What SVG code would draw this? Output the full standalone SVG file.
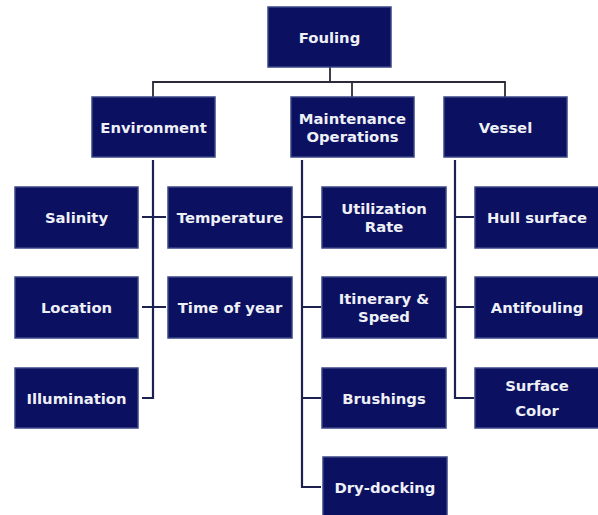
<svg xmlns="http://www.w3.org/2000/svg" width="598" height="515" viewBox="0 0 598 515">
<style>
.box{fill:#0b1061;stroke:#3a4585;stroke-width:1.5}
.t{fill:#eef0f6;font-family:"DejaVu Sans",sans-serif;font-weight:bold;font-size:14.8px;text-anchor:middle;dominant-baseline:central}
.c{stroke:#1c2150;stroke-width:2.2;fill:none}
.bus{stroke:#2a2a3a;stroke-width:1.8;fill:none}
</style>
<rect width="598" height="515" fill="#ffffff"/>
<g id="connectors">
<path class="bus" d="M153 97V82H505V97M330 67V82M352 82V97"/>
<path class="c" d="M153 160V398H142M142 217H166M142 307H166"/>
<path class="c" d="M302 160V487H321M302 217H321M302 307H321M302 398H321"/>
<path class="c" d="M455 160V398H474M455 217H474M455 307H474"/>
</g>
<g id="fouling"><rect class="box" x="268" y="7" width="123" height="60"/><text class="t" x="329.5" y="37">Fouling</text></g>
<g id="environment"><rect class="box" x="92" y="97" width="123" height="60"/><text class="t" x="153.5" y="127">Environment</text></g>
<g id="maintenance"><rect class="box" x="291" y="97" width="123" height="60"/><text class="t" x="352.5" y="118">Maintenance</text><text class="t" x="352.5" y="136">Operations</text></g>
<g id="vessel"><rect class="box" x="444" y="97" width="123" height="60"/><text class="t" x="505.5" y="127">Vessel</text></g>
<g id="salinity"><rect class="box" x="15" y="187" width="123" height="61"/><text class="t" x="76.5" y="217">Salinity</text></g>
<g id="temperature"><rect class="box" x="168" y="187" width="124" height="61"/><text class="t" x="230" y="217">Temperature</text></g>
<g id="location"><rect class="box" x="15" y="277" width="123" height="61"/><text class="t" x="76.5" y="307">Location</text></g>
<g id="timeofyear"><rect class="box" x="168" y="277" width="124" height="61"/><text class="t" x="230" y="307">Time of year</text></g>
<g id="illumination"><rect class="box" x="15" y="368" width="123" height="60"/><text class="t" x="76.5" y="398">Illumination</text></g>
<g id="utilization"><rect class="box" x="322" y="187" width="124" height="61"/><text class="t" x="384" y="208">Utilization</text><text class="t" x="384" y="226">Rate</text></g>
<g id="itinerary"><rect class="box" x="322" y="277" width="124" height="61"/><text class="t" x="384" y="298">Itinerary &amp;</text><text class="t" x="384" y="316">Speed</text></g>
<g id="brushings"><rect class="box" x="322" y="368" width="124" height="60"/><text class="t" x="384" y="398">Brushings</text></g>
<g id="drydocking"><rect class="box" x="323" y="457" width="124" height="62"/><text class="t" x="385" y="487">Dry-docking</text></g>
<g id="hull"><rect class="box" x="475" y="187" width="126" height="61"/><text class="t" x="537" y="217">Hull surface</text></g>
<g id="antifouling"><rect class="box" x="475" y="277" width="126" height="61"/><text class="t" x="537" y="307">Antifouling</text></g>
<g id="surfacecolor"><rect class="box" x="475" y="368" width="126" height="60"/><text class="t" x="537" y="385">Surface</text><text class="t" x="537" y="410">Color</text></g>
</svg>
